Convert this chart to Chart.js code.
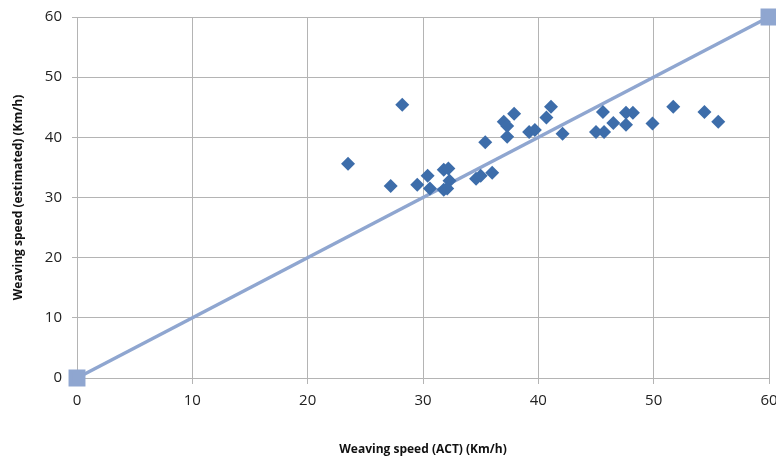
<!DOCTYPE html>
<html>
<head>
<meta charset="utf-8">
<script src="https://cdn.jsdelivr.net/npm/chart.js@4"></script>
<style>
  html, body { margin: 0; padding: 0; background: #fff; }
  #wrap { width: 776px; height: 461px; }
</style>
</head>
<body>
<div id="wrap"><canvas id="canvas" width="776" height="461"></canvas></div>
<script>
const canvas = document.getElementById("canvas");

// ACT speed vs estimated speed (Km/h)
const actSpeed = [23.5, 28.2, 27.2, 29.5, 30.4, 30.6, 31.8, 32.2, 32.3, 31.8, 32.1, 34.6, 35.0, 35.4, 36.0,
	37.0, 37.3, 37.3, 37.9, 39.2, 39.7, 40.7, 41.1, 42.1, 45.0, 45.6, 45.7, 46.5, 47.6, 48.2, 47.6, 49.9,
	51.7, 54.4, 55.6];
const estSpeed = [35.6, 45.4, 31.9, 32.1, 33.6, 31.5, 34.6, 34.8, 32.8, 31.3, 31.5, 33.1, 33.6, 39.2, 34.1,
	42.6, 41.9, 40.1, 43.9, 40.9, 41.2, 43.3, 45.1, 40.6, 40.9, 44.2, 40.9, 42.4, 44.1, 44.1, 42.1, 42.3,
	45.1, 44.2, 42.6];
const refLineX = [0, 60];
const refLineY = [0, 60];
const axisTicks = [0, 10, 20, 30, 40, 50, 60];

const tickFont = { family: "'Open Sans', sans-serif", size: 15 };
const titleFont = { family: "'Open Sans', sans-serif", size: 12, weight: "bold" };
const gridColor = "#B4B4B4";

const grafico = new Chart(canvas, {
	type: "scatter",
	data: {
		datasets: [
			{
				label: "ACT vs estimated",
				data: actSpeed.map((v, i) => ({ x: v, y: estSpeed[i] })),
				pointStyle: "rectRot",
				pointRadius: 7,
				backgroundColor: "#3D6DAA",
				borderColor: "#3D6DAA",
				borderWidth: 0,
				order: 1,
			},
			{
				label: "y = x",
				type: "line",
				data: refLineX.map((v, i) => ({ x: v, y: refLineY[i] })),
				showLine: true,
				borderColor: "#8FA6D0",
				backgroundColor: "#8FA6D0",
				borderWidth: 3.5,
				pointStyle: "rect",
				pointRadius: 9.5,
				clip: false,
				order: 2,
			},
		],
	},
	options: {
		responsive: false,
		animation: false,
		layout: { autoPadding: false, padding: { left: 0, right: 7, top: 17, bottom: 0 } },
		plugins: {
			legend: { display: false },
			tooltip: { enabled: false },
		},
		scales: {
			x: {
				type: "linear",
				min: 0,
				max: 60,
				afterBuildTicks: (s) => { s.ticks = axisTicks.map((v) => ({ value: v })); },
				afterFit: (s) => { s.height = 83; s.paddingRight = 0; s.paddingLeft = 0; },
				grid: { color: gridColor, tickLength: 6, lineWidth: 1 },
				border: { color: gridColor },
				ticks: { color: "#222", font: tickFont, padding: 8, maxRotation: 0 },
				title: { display: true, text: "Weaving speed (ACT) (Km/h)", color: "#111", font: titleFont, padding: { top: 0, bottom: 4 } },
			},
			y: {
				type: "linear",
				min: 0,
				max: 60,
				afterBuildTicks: (s) => { s.ticks = axisTicks.map((v) => ({ value: v })); },
				afterFit: (s) => { s.width = 77; s.paddingTop = 0; s.paddingBottom = 0; },
				grid: { color: gridColor, tickLength: 5, lineWidth: 1 },
				border: { color: gridColor },
				ticks: { color: "#222", font: tickFont, padding: 10 },
				title: { display: true, text: "Weaving speed (estimated) (Km/h)", color: "#111", font: titleFont, padding: { top: 11, bottom: 0 } },
			},
		},
	},
});
</script>
</body>
</html>
